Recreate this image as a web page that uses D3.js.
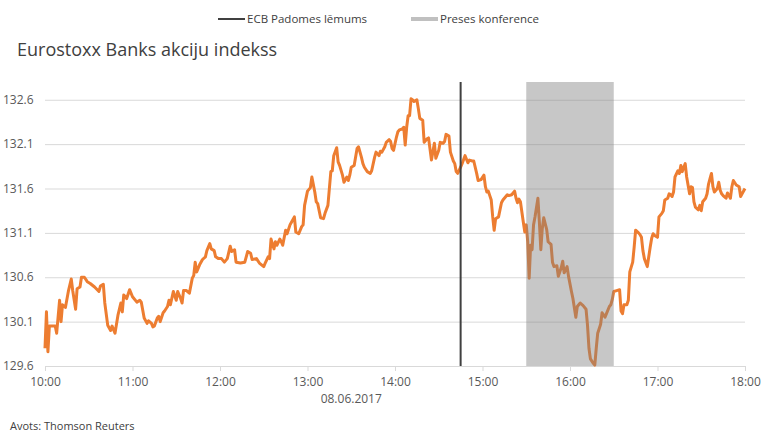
<!DOCTYPE html>
<html>
<head>
<meta charset="utf-8">
<script src="https://cdn.jsdelivr.net/npm/d3@7"></script>
<style>
  body { margin: 0; background: #fff; }
  svg { display: block; font-family: "Open Sans", sans-serif; }
</style>
</head>
<body>
<svg id="chart" width="768" height="438"></svg>
<script>
// minutes after 10:00 on 08.06.2017
const minutes = [0,1,2,3,7,8,10,11,12,14,16,18,19,21,22,24,25,27,29,31,34,37,38,40,41,43,45,46,48,50,
  52,53,54,56,58,60,63,65,66,68,70,71,73,74,75,77,78,79,81,82,84,85,86,88,90,91,93,94,95,97,
  99,101,102,103,104,106,108,110,111,113,114,116,117,119,121,123,125,127,128,130,131,134,137,139,141,142,145,147,150,151,
  153,154,155,157,158,159,161,162,163,165,166,168,169,171,172,174,176,177,178,180,182,183,185,186,187,189,191,192,194,196,
  197,198,200,201,202,204,205,207,208,209,210,212,214,215,217,218,219,221,223,224,226,227,229,230,231,233,234,236,237,238,
  239,241,242,243,245,246,247,248,249,250,251,252,253,255,256,257,259,260,262,263,265,267,268,270,271,273,274,275,277,278,
  280,281,282,283,285,286,288,290,291,293,294,296,297,299,301,302,303,304,305,306,307,308,309,311,313,314,317,318,320,322,
  323,324,325,326,328,329,330,331,332,333,334,335,336,338,339,340,341,342,344,345,347,348,349,351,352,354,355,356,358,359,
  361,362,364,365,367,369,371,372,373,374,376,377,378,379,381,382,384,385,387,388,389,390,392,394,395,396,397,399,400,401,
  403,404,405,407,408,409,410,411,413,414,415,416,417,418,420,421,423,424,425,427,428,429,430,431,432,434,435,436,437,438,
  439,440,442,443,444,445,446,448,449,450,451,453,454,455,456,457,458,459,461,462,463,464,465,467,468,470,471,472,474,476,
  477,478,480];

const index = [129.80,130.21,129.76,130.05,130.05,129.97,130.34,130.10,130.29,130.26,130.44,130.58,130.45,130.24,130.47,130.49,130.60,130.60,130.55,130.53,130.49,130.44,130.50,130.52,130.31,130.06,130.00,130.05,129.97,130.17,
  130.31,130.21,130.40,130.36,130.46,130.38,130.32,130.34,130.32,130.14,130.08,130.11,130.08,130.04,130.05,130.14,130.16,130.10,130.20,130.22,130.27,130.34,130.29,130.44,130.34,130.44,130.36,130.31,130.45,130.45,
  130.42,130.59,130.62,130.77,130.66,130.74,130.80,130.83,130.90,130.98,130.92,130.90,130.83,130.81,130.81,130.77,130.81,130.95,130.89,130.91,130.77,130.76,130.77,130.89,130.87,130.80,130.81,130.76,130.72,130.76,
  130.83,130.81,131.03,130.92,131.00,130.96,131.03,131.00,130.96,131.13,131.09,131.19,131.22,131.28,131.11,131.09,131.17,131.19,131.41,131.57,131.61,131.73,131.56,131.45,131.43,131.27,131.26,131.32,131.41,131.79,
  131.80,131.97,132.06,131.90,131.86,131.75,131.67,131.73,131.69,131.75,131.84,131.86,132.05,132.07,131.95,131.88,131.84,131.79,131.77,131.80,131.95,132.01,131.97,132.02,132.01,132.07,132.12,132.15,132.13,132.05,
  132.03,132.18,132.24,132.26,132.27,132.29,132.09,132.29,132.42,132.42,132.61,132.60,132.58,132.60,132.50,132.39,132.37,132.12,132.16,132.17,131.92,132.11,131.94,132.03,132.12,132.11,132.13,132.21,132.19,132.01,
  131.91,131.88,131.79,131.77,131.84,131.88,131.97,131.89,131.92,131.91,131.91,131.77,131.69,131.70,131.75,131.62,131.56,131.57,131.52,131.47,131.28,131.13,131.26,131.28,131.44,131.47,131.53,131.52,131.53,131.57,
  131.49,131.44,131.48,131.45,131.22,131.11,131.19,131.00,130.59,130.96,130.91,131.19,131.28,131.49,131.22,130.91,131.15,131.27,131.14,131.00,130.97,130.77,130.72,130.73,130.61,130.71,130.78,130.65,130.72,130.61,
  130.44,130.36,130.15,130.27,130.31,130.28,130.24,130.06,129.80,129.68,129.63,129.61,129.80,129.97,130.07,130.20,130.15,130.19,130.27,130.29,130.35,130.44,130.45,130.46,130.22,130.19,130.29,130.29,130.34,130.66,
  130.77,130.94,131.13,131.10,131.08,131.05,130.90,130.81,130.72,130.83,130.94,131.04,131.09,131.07,131.05,131.28,131.32,131.35,131.47,131.49,131.54,131.53,131.51,131.56,131.73,131.80,131.77,131.86,131.79,131.84,
  131.88,131.73,131.54,131.62,131.61,131.45,131.39,131.36,131.41,131.35,131.45,131.49,131.54,131.65,131.71,131.77,131.62,131.56,131.60,131.67,131.58,131.54,131.52,131.49,131.55,131.49,131.62,131.69,131.64,131.62,
  131.51,131.54,131.60];

const yTicks = [129.6, 130.1, 130.6, 131.1, 131.6, 132.1, 132.6];
const xTickLabels = ["10:00","11:00","12:00","13:00","14:00","15:00","16:00","17:00","18:00"];
const ecbDecision = "14:45";
const pressConference = ["15:30", "16:30"];
const legendLabels = ["ECB Padomes lēmums", "Preses konference"];

const svg = d3.select("#chart");
const day = d => { const [h, m] = d.split(":").map(Number); return new Date(2017, 5, 8, h, m); };
const data = minutes.map((m, i) => ({ t: new Date(2017, 5, 8, 10, m), v: index[i] }));

const margin = { left: 45, right: 23, top: 82, bottom: 72 };
const width = 768 - margin.left - margin.right;
const height = 438 - margin.top - margin.bottom;

const x = d3.scaleTime().domain([day("10:00"), day("18:00")]).range([0, width]);
const y = d3.scaleLinear().domain([129.6, 132.8]).range([height, 0]);

const g = svg.append("g").attr("transform", `translate(${margin.left},${margin.top})`);

// gridlines
g.append("g")
  .call(d3.axisLeft(y).tickValues(yTicks.slice(1)).tickSize(-width).tickFormat(""))
  .call(s => s.select(".domain").remove())
  .call(s => s.selectAll("line").attr("stroke", "#d9d9d9"));

// y labels
g.append("g").selectAll("text").data(yTicks).join("text")
  .attr("x", -42).attr("y", d => y(d)).attr("dy", "0.35em")
  .attr("fill", "#595959").style("font-size", "12px")
  .text(d => d.toFixed(1));

// x axis
const xAxis = g.append("g").attr("transform", `translate(0,${height})`)
  .call(d3.axisBottom(x).tickValues(xTickLabels.map(day)).tickSize(5).tickPadding(6).tickFormat(d3.timeFormat("%H:%M")));
xAxis.select(".domain").attr("stroke", "#d9d9d9");
xAxis.selectAll("line").attr("stroke", "#d9d9d9");
xAxis.selectAll("text").attr("fill", "#595959").style("font-size", "12px").style("font-family", "Open Sans, sans-serif");

g.append("text").attr("x", x(day("13:30"))).attr("y", height + 37)
  .attr("text-anchor", "middle").attr("fill", "#595959").style("font-size", "12px")
  .text("08.06.2017");

// line
const line = d3.line().x(d => x(d.t)).y(d => y(d.v));
g.append("path").datum(data)
  .attr("fill", "none").attr("stroke", "#ed7d31").attr("stroke-width", 3)
  .attr("stroke-linejoin", "round").attr("d", line);

// ECB decision marker
g.append("line")
  .attr("x1", x(day(ecbDecision))).attr("x2", x(day(ecbDecision)))
  .attr("y1", 0).attr("y2", height)
  .attr("stroke", "#404040").attr("stroke-width", 2);

// press conference band
g.append("rect")
  .attr("x", x(day(pressConference[0]))).attr("y", 0)
  .attr("width", x(day(pressConference[1])) - x(day(pressConference[0])))
  .attr("height", height)
  .attr("fill", "#808080").attr("fill-opacity", 0.44);

// title
svg.append("text").attr("x", 17).attr("y", 56)
  .attr("fill", "#404040").style("font-size", "18px")
  .text("Eurostoxx Banks akciju indekss");

// legend
const legend = svg.append("g");
const legendX = [218, 411];
const legendColors = ["#404040", "#c0c0c0"];
legendLabels.forEach((lab, i) => {
  legend.append("line").attr("x1", legendX[i]).attr("x2", legendX[i] + 27)
    .attr("y1", 19).attr("y2", 19).attr("stroke", legendColors[i]).attr("stroke-width", i ? 4 : 2);
  legend.append("text").attr("x", legendX[i] + 29).attr("y", 19).attr("dy", "0.35em")
    .attr("fill", "#404040").style("font-size", "11.5px").text(lab);
});

// source
svg.append("text").attr("x", 10).attr("y", 430)
  .attr("fill", "#404040").style("font-size", "11px")
  .text("Avots: Thomson Reuters");
</script>
</body>
</html>
